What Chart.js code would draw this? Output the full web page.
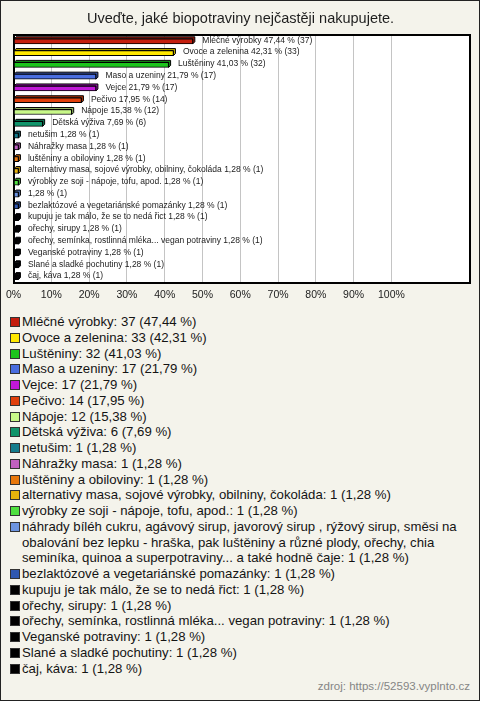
<!DOCTYPE html>
<html lang="cs">
<head>
<meta charset="utf-8">
<script src="https://cdn.jsdelivr.net/npm/chart.js@4.4.1/dist/chart.umd.min.js"></script>
<style>
  html, body { margin: 0; padding: 0; background: #f4f3eb; }
  body { width: 480px; height: 701px; position: relative; overflow: hidden;
         font-family: "Liberation Sans", Arial, sans-serif; }
  .frame { position: absolute; left: 0; top: 0; width: 480px; height: 701px;
           box-sizing: border-box; border: 1px solid #222; pointer-events: none; }
  .chart-box { position: absolute; left: 0; top: 0; width: 480px; height: 312px; }
  #legend { position: absolute; left: 10px; top: 314px; width: 460px; }
  .item { display: flex; align-items: flex-start; font-size: 13.2px; line-height: 15.75px; color: #141414; }
  .sw { flex: 0 0 auto; width: 10px; height: 10px; box-sizing: border-box; border: 1px solid #333;
        margin: 3px 2px 0 0; }
  .src { position: absolute; right: 10px; top: 680px; font-size: 11.5px; color: #858585; }
</style>
</head>
<body>
<div class="chart-box"><canvas id="bioChart"></canvas></div>
<div id="legend"></div>
<div class="src">zdroj: https://52593.vyplnto.cz</div>
<div class="frame"></div>
<script>
'use strict';
// ─────────────────────────────────────────────
//  DATA
// ─────────────────────────────────────────────

const TITLE = 'Uveďte, jaké biopotraviny nejčastěji nakupujete.';

const categories = [
  'Mléčné výrobky',
  'Ovoce a zelenina',
  'Luštěniny',
  'Maso a uzeniny',
  'Vejce',
  'Pečivo',
  'Nápoje',
  'Dětská výživa',
  'netušim',
  'Náhražky masa',
  'luštěniny a obiloviny',
  'alternativy masa, sojové výrobky, obilniny, čokoláda',
  'výrobky ze soji - nápoje, tofu, apod.',
  'náhrady bíléh cukru, agávový sirup, javorový sirup , rýžový sirup, směsi na obalování bez lepku - hraška, pak luštěniny a různé plody, ořechy, chia seminíka, quinoa a superpotraviny... a také hodně čaje',
  'bezlaktózové a vegetariánské pomazánky',
  'kupuju je tak málo, že se to nedá řict',
  'ořechy, sirupy',
  'ořechy, semínka, rostlinná mléka... vegan potraviny',
  'Veganské potraviny',
  'Slané a sladké pochutiny',
  'čaj, káva',
];

// the long answer has no name next to its bar
const barNames = categories.map((c, i) => (i === 13 ? '' : c));

const counts = [37, 33, 32, 17, 17, 14, 12, 6, 1, 1, 1, 1, 1, 1, 1, 1, 1, 1, 1, 1, 1];

const percents = [47.44, 42.31, 41.03, 21.79, 21.79, 17.95, 15.38, 7.69,
  1.28, 1.28, 1.28, 1.28, 1.28, 1.28, 1.28, 1.28, 1.28, 1.28, 1.28, 1.28, 1.28];

const colors = [
  '#c41e0e', '#ffe800', '#1cc41c', '#4a6ee0', '#c018d8', '#e0400c', '#c8f888',
  '#10946a', '#147c8c', '#c060c0', '#e8780c', '#e8b40c', '#50e040', '#6c94e0',
  '#3058b0', '#000000', '#000000', '#000000', '#000000', '#000000', '#000000',
];

const xTicks = [0, 10, 20, 30, 40, 50, 60, 70, 80, 90, 100];

const FONT = '"Liberation Sans", Arial, sans-serif';
const fmt = v => v.toFixed(2).replace('.', ',');

// ─────────────────────────────────────────────
//  PLUGINS
// ─────────────────────────────────────────────

function shade(hex, k) {
  const n = parseInt(hex.slice(1), 16);
  const r = Math.round(((n >> 16) & 255) * k);
  const g = Math.round(((n >> 8) & 255) * k);
  const b = Math.round((n & 255) * k);
  return `rgb(${r},${g},${b})`;
}

const DEPTH = 2;

const plotFrame = {
  id: 'plotFrame',
  beforeDraw(chart) {
    const { ctx, chartArea: a } = chart;
    ctx.save();
    ctx.fillStyle = '#ffffff';
    ctx.fillRect(a.left, a.top, a.right - a.left, a.bottom - a.top);
    ctx.restore();
  },
  beforeDatasetsDraw(chart) {
    const { ctx, chartArea: a } = chart;
    ctx.save();
    ctx.strokeStyle = '#000';
    ctx.lineWidth = 2;
    ctx.strokeRect(Math.round(a.left), Math.round(a.top),
      Math.round(a.right - a.left), Math.round(a.bottom - a.top));

    // 3D top and side faces behind each bar
    const meta = chart.getDatasetMeta(0);
    meta.data.forEach((bar, i) => {
      const { x, y, base, height } = bar.getProps(['x', 'y', 'base', 'height'], true);
      const top = y - height / 2;
      const bottom = y + height / 2;
      ctx.fillStyle = shade(colors[i], 0.75);
      ctx.strokeStyle = '#000';
      ctx.lineWidth = 1;
      ctx.beginPath();
      ctx.moveTo(base, top);
      ctx.lineTo(base + DEPTH, top - DEPTH);
      ctx.lineTo(x + DEPTH, top - DEPTH);
      ctx.lineTo(x + DEPTH, bottom - DEPTH);
      ctx.lineTo(x, bottom);
      ctx.lineTo(x, top);
      ctx.closePath();
      ctx.fill();
      ctx.stroke();
    });
    ctx.restore();
  },
  afterDatasetsDraw(chart) {
    const { ctx } = chart;
    const meta = chart.getDatasetMeta(0);
    ctx.save();
    ctx.font = `8.5px ${FONT}`;
    ctx.fillStyle = '#222';
    ctx.textBaseline = 'middle';
    meta.data.forEach((bar, i) => {
      const name = barNames[i] ? barNames[i] + ' ' : '';
      ctx.fillText(`${name}${fmt(percents[i])} % (${counts[i]})`, bar.x + 9.5, bar.y - 1);
    });
    ctx.restore();
  },
};

// ─────────────────────────────────────────────
//  CHART
// ─────────────────────────────────────────────

new Chart(document.getElementById('bioChart'), {
  type: 'bar',
  data: {
    labels: categories,
    datasets: [{
      data: percents,
      backgroundColor: colors,
      borderColor: '#000',
      borderWidth: 1,
      borderSkipped: false,
      barThickness: 5,
    }],
  },
  options: {
    indexAxis: 'y',
    responsive: true,
    maintainAspectRatio: false,
    animation: false,
    layout: { padding: { left: 11, right: 10, top: 0, bottom: 4.4 } },
    plugins: {
      legend: { display: false },
      tooltip: { enabled: false },
      title: {
        display: true,
        text: TITLE,
        color: '#1e1e1e',
        font: { family: FONT, size: 14.5, weight: 'normal' },
        padding: { top: 10, bottom: 8 },
      },
    },
    scales: {
      x: {
        min: 0,
        max: 120.8,
        afterBuildTicks: axis => { axis.ticks = xTicks.map(v => ({ value: v })); },
        ticks: {
          color: '#222',
          font: { family: FONT, size: 10.5 },
          padding: 6,
          maxRotation: 0,
          autoSkip: false,
          callback: v => v + '%',
        },
        grid: { color: '#c4c4c4', lineWidth: 1, drawTicks: false },
        border: { display: false },
      },
      y: {
        display: false,
      },
    },
  },
  plugins: [plotFrame],
});

// ─────────────────────────────────────────────
//  LEGEND
// ─────────────────────────────────────────────

const legendEl = document.getElementById('legend');
categories.forEach((name, i) => {
  const row = document.createElement('div');
  row.className = 'item';
  const sw = document.createElement('span');
  sw.className = 'sw';
  sw.style.background = colors[i];
  const txt = document.createElement('span');
  txt.textContent = `${name}: ${counts[i]} (${fmt(percents[i])} %)`;
  row.appendChild(sw);
  row.appendChild(txt);
  legendEl.appendChild(row);
});
</script>
</body>
</html>
